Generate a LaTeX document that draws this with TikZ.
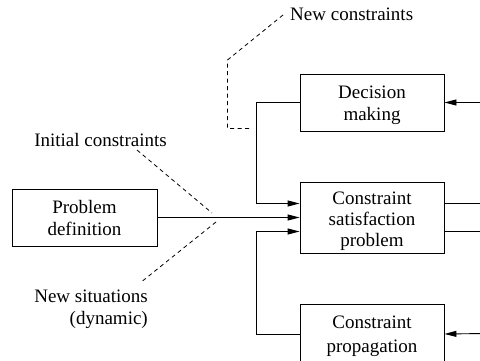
\documentclass[tikz,border=0pt]{standalone}
\usepackage{fontspec}
\setmainfont{Liberation Serif}
\usetikzlibrary{arrows.meta,calc}
\begin{document}
\begin{tikzpicture}[x=1pt,y=-1pt,
  every node/.style={font=\fontsize{19}{22}\selectfont},
  blk/.style={draw,line width=0.9pt,minimum width=144pt,inner sep=0pt},
  txt/.style={inner sep=0pt,align=center},
  lbl/.style={inner sep=0pt,align=center},
  conn/.style={line width=0.9pt},
  arr/.style={conn,-{Triangle[length=12pt,width=6pt]}},
  dsh/.style={line width=0.8pt,dash pattern=on 4pt off 3.5pt}]
\useasboundingbox (0,0) rectangle (480,361);
% blocks
\node[blk,minimum width=145pt,minimum height=57pt] (pd) at (84.5,217.5) {};
\node[txt] (pdt) at ([yshift=-1pt]pd.center) {Problem\\definition};
\node[blk,minimum height=57pt] (dm) at (372,102.5) {};
\node[txt] (dmt) at ([yshift=-3pt]dm.center) {Decision\\making};
\node[blk,minimum height=71pt] (csp) at (372,217.5) {};
\node[txt,font=\fontsize{19}{21}\selectfont] (cspt) at ([yshift=-4pt]csp.center) {Constraint\\satisfaction\\problem};
\node[blk,minimum height=60pt] (cp) at (372,334) {};
\node[txt,font=\fontsize{19}{24}\selectfont] (cpt) at (372,336) {Constraint\\propagation};
% labels
\node[lbl] (ic) at (100.5,140) {Initial constraints};
\node[lbl,align=right,anchor=east] (ns) at (148,309) {New situations\\(dynamic)};
\node[lbl,anchor=west] (nc) at (290,14) {New constraints};
% free ends
\coordinate (r1) at (486,102.5);
\coordinate (r2) at (486,203.5);
\coordinate (r3) at (486,231.5);
\coordinate (r4) at (486,333.5);
\coordinate (icA) at (137,150);
\coordinate (icB) at (212,213);
\coordinate (nsA) at (216,222);
\coordinate (nsB) at (140,283);
\coordinate (ncA) at (283,15);
\coordinate (ncB) at (227.5,60);
\coordinate (ncC) at (227.5,128.5);
\coordinate (ncD) at (250,128.5);
% connectors
\draw[arr] (pd.east) -- (csp.west);
\draw[arr] (dm.west) -- ++(-43,0) |- ([yshift=14pt]csp.west);
\draw[arr] (cp.west) -- ++(-43,0) |- ([yshift=-14pt]csp.west);
\draw[arr] (r1) -- (dm.east);
\draw[arr] (r4) -- (cp.east);
\draw[conn] ([yshift=14pt]csp.east) -- (r2);
\draw[conn] ([yshift=-14pt]csp.east) -- (r3);
% dashed annotation lines
\draw[dsh] (icA) -- (icB);
\draw[dsh] (nsA) -- (nsB);
\draw[dsh] (ncA) -- (ncB) -- (ncC) -- (ncD);
\end{tikzpicture}
\end{document}
